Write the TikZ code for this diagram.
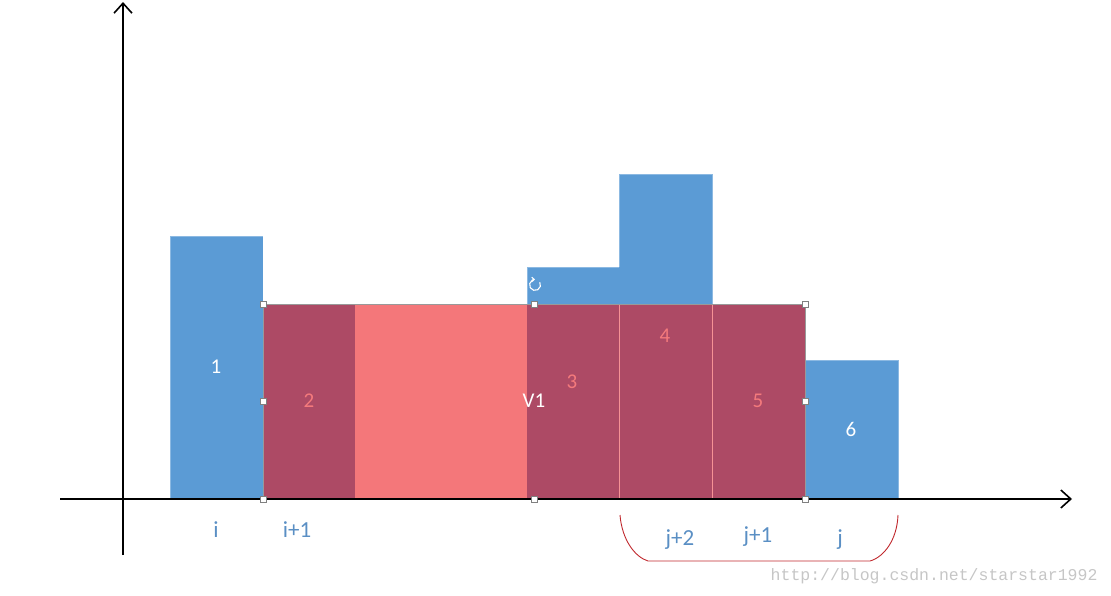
\documentclass[tikz,border=0pt]{standalone}
\usepackage{fontspec}
\setmainfont{Carlito}
\newfontfamily\wmfont{Liberation Mono}
\usetikzlibrary{arrows.meta}
\definecolor{barblue}{HTML}{5B9BD5}
\definecolor{maroon}{HTML}{AD4A65}
\definecolor{salmon}{HTML}{F4777A}
\definecolor{lblblue}{HTML}{5A8FC4}
\definecolor{lblsalmon}{HTML}{F47A7C}
\definecolor{bracered}{HTML}{C0282D}
\begin{document}
\begin{tikzpicture}[x=1pt,y=-1pt,
  axis/.style={line width=1.8,-{Straight Barb[length=10,width=18,line width=1.6]}},
  handle/.style={draw=gray,fill=white,line width=0.6,minimum size=6,inner sep=0,rectangle},
  wlbl/.style={text=white,font=\fontsize{21}{24}\selectfont},
  slbl/.style={text=lblsalmon,font=\fontsize{21}{24}\selectfont},
  blbl/.style={text=lblblue,font=\fontsize{23}{26}\selectfont}]
\useasboundingbox (0,0) rectangle (1111,595);
% bars
\fill[barblue] (170,236) rectangle (263,499);
\fill[barblue] (527,267) rectangle (619,304);
\fill[barblue] (619,174) rectangle (712,304);
\fill[barblue] (805,360) rectangle (898,499);
\draw[barblue!70!white,line width=0.6] (170,499) -- (170,236) -- (263,236);
\draw[barblue!70!white,line width=0.6] (527,304) -- (527,267) -- (619,267);
\draw[barblue!70!white,line width=0.6] (619,267) -- (619,174) -- (712,174) -- (712,304);
\draw[barblue!70!white,line width=0.6] (805,360) -- (898,360) -- (898,499);
% overlay
\fill[maroon] (263,304) rectangle (355,499);
\fill[salmon] (355,304) rectangle (527,499);
\fill[maroon] (527,304) rectangle (805,499);
\draw[salmon!80!white,line width=0.5] (619,304) -- (619,499) (712,304) -- (712,499);
\draw[gray!80,line width=0.8] (263,304) rectangle (805,499);
% axes
\coordinate (xs) at (60,499); \coordinate (xe) at (1072,499);
\coordinate (ys) at (123,555); \coordinate (ye) at (123,2);
\draw[axis] (xs) -- (xe);
\draw[axis] (ys) -- (ye);
% handles
\foreach \p in {(263,304),(263,401),(263,499),(534,304),(534,499),(805,304),(805,401),(805,499)}
  \node[handle] at \p {};
\draw[white,line width=1.1,-{Straight Barb[length=2.5,width=4.5]}] (539.8,282.2) arc[start angle=-30,end angle=270,radius=5.5];
% labels
\node[wlbl] (n1) at (216,367) {1};
\node[slbl] (n2) at (309,401) {2};
\node[slbl] (n3) at (572,382) {3};
\node[slbl] (n4) at (665,336) {4};
\node[slbl] (n5) at (758,401) {5};
\node[wlbl] (n6) at (851,429) {6};
\node[wlbl] (v1) at (534,401) {V1};
\node[blbl] (li) at (216,530) {i};
\node[blbl] (li1) at (297,530) {i+1};
\node[blbl] (lj2) at (680,540) {j+2};
\node[blbl] (lj1) at (758,537) {j+1};
\node[blbl] (lj) at (840,540) {j};
% brace
\draw[bracered,line width=0.9] (620,515) .. controls (622,540) and (635,557) .. (648,561) -- (870,561) .. controls (884,557) and (897,540) .. (898,515);
% watermark
\node[text=gray!45,font=\wmfont\fontsize{16.5}{18}\selectfont,anchor=east] (wm) at (1101,576) {http://blog.csdn.net/starstar1992};
\end{tikzpicture}
\end{document}
